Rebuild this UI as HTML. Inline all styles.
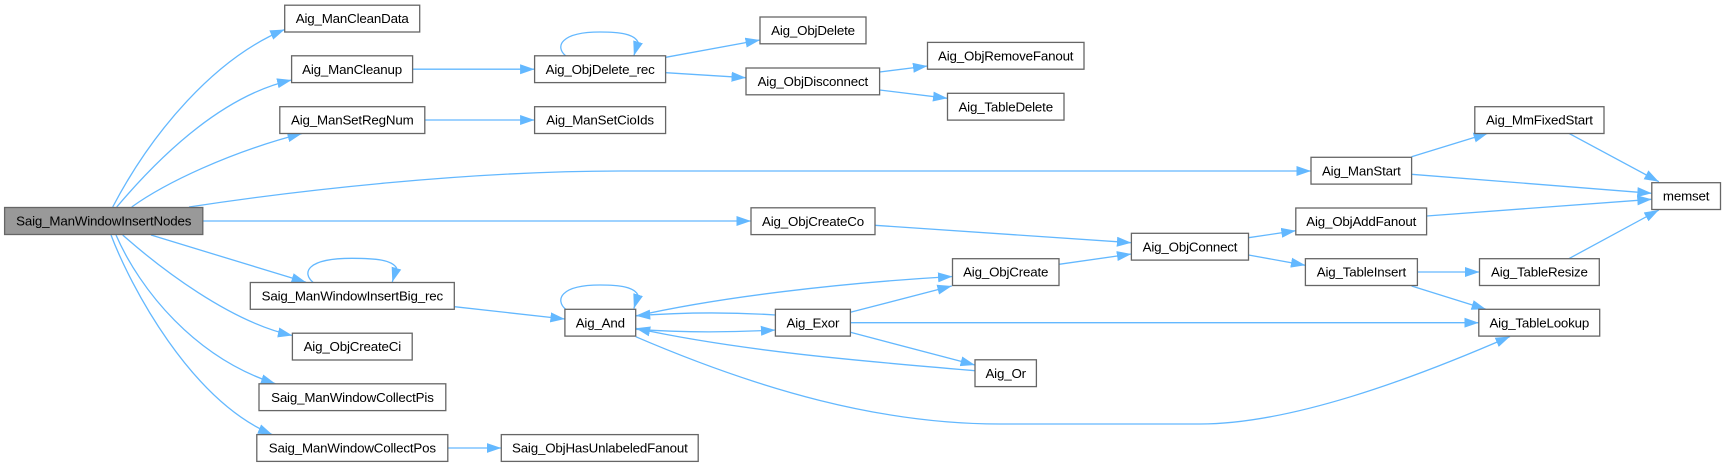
<!DOCTYPE html>
<html><head><meta charset="utf-8"><style>
html,body{margin:0;padding:0;background:#fff}
svg{display:block}
text{font-family:"Liberation Sans",Arial,sans-serif;font-size:13.33px;letter-spacing:-0.17px;fill:#000;text-anchor:middle}
.e{fill:none;stroke:#63b8ff;stroke-width:1.3;marker-end:url(#a)}
.n{fill:#fff;stroke:#666;stroke-width:1.3}
</style></head><body>
<svg width="1726" height="467" viewBox="0 0 1726 467" xmlns="http://www.w3.org/2000/svg">
<defs><marker id="a" markerUnits="userSpaceOnUse" markerWidth="15" markerHeight="11" refX="14.5" refY="5.5" orient="auto"><path d="M0,0.5L14.5,5.5L0,10.5Z" fill="#63b8ff"/></marker></defs>
<g>
<path class="e" d="M112.7,207C152,132 215,58 284.7,29.5"/>
<path class="e" d="M116.7,207C165,150 225,95 291.6,80"/>
<path class="e" d="M131.7,207C165,183 230,152 302,133.5"/>
<path class="e" d="M189,207C300,190 470,171 620,171L1311,171"/>
<path class="e" d="M203,221L751,221"/>
<path class="e" d="M151,235L306,282.3"/>
<path class="e" d="M122.7,235C160,268 230,322 292.4,335.5"/>
<path class="e" d="M116,235C140,290 195,358 275.5,383.7"/>
<path class="e" d="M111,235C130,285 190,400 272.5,434.7"/>
<path class="e" d="M313,282.3C302,273 306,258.3 352,258.3C376,258.3 392,260 396.5,268L392.3,282"/>
<path class="e" d="M565.6,55.7C555,47 560,32 600,32C620,32 634,34 638,42L633.9,55.7"/>
<path class="e" d="M565.6,309.3C555,300 560,285 600,285C620,285 634,287 638,295L633.9,308.5"/>
<path class="e" d="M412.5,69.2L534.6,69.2"/>
<path class="e" d="M424.8,120L534.6,120"/>
<path class="e" d="M665.7,57.3L760,40"/>
<path class="e" d="M665.7,72.7L746,77.7"/>
<path class="e" d="M879.6,72L927.5,66"/>
<path class="e" d="M879.6,90L947.5,98.3"/>
<path class="e" d="M447.8,448L501.3,448"/>
<path class="e" d="M454.3,306.7L564.9,319"/>
<path class="e" d="M875,225.3L1131.4,242.7"/>
<path class="e" d="M1059,264.3L1131.4,254"/>
<path class="e" d="M636,316C720,297 840,283 952.5,276.5"/>
<path class="e" d="M775.4,315C730,312 680,312.5 635.7,315.7"/>
<path class="e" d="M635.7,329.3C680,332.5 730,332.5 775.4,330"/>
<path class="e" d="M975,370.7C860,361 740,351 635.7,328.3"/>
<path class="e" d="M850.4,312.3L951.8,286"/>
<path class="e" d="M850.4,322.7L1478.8,322.7"/>
<path class="e" d="M850.4,332.3L975,365"/>
<path class="e" d="M635.7,336.7C760,390 880,424 1000,424L1200,424C1290,424 1410,380 1510,336.5"/>
<path class="e" d="M1248.5,237.7L1295.8,230.7"/>
<path class="e" d="M1248.5,255L1305.4,265.3"/>
<path class="e" d="M1417.4,272L1479.5,272"/>
<path class="e" d="M1411.6,286L1486,309.3"/>
<path class="e" d="M1568.8,258.7L1658.8,210"/>
<path class="e" d="M1426.6,216L1651.8,199.3"/>
<path class="e" d="M1411.6,174.3L1651.8,193.3"/>
<path class="e" d="M1411.6,156.7L1488,133.3"/>
<path class="e" d="M1568.8,133.3L1658.8,181.7"/>
</g>
<g>
<rect x="4.6" y="207.5" width="198.2" height="27" fill="#999" stroke="#666" stroke-width="1.3"/><text x="103.7" y="225.5">Saig_ManWindowInsertNodes</text>
<rect class="n" x="284.7" y="5.2" width="135" height="26.8"/><text x="352.2" y="23">Aig_ManCleanData</text>
<rect class="n" x="291.6" y="55.8" width="121" height="26.8"/><text x="352.1" y="73.8">Aig_ManCleanup</text>
<rect class="n" x="279.8" y="106.7" width="145" height="26.8"/><text x="352.3" y="124.7">Aig_ManSetRegNum</text>
<rect class="n" x="534.6" y="55.8" width="131" height="26.8"/><text x="600.1" y="73.8">Aig_ObjDelete_rec</text>
<rect class="n" x="534.6" y="106.7" width="131" height="26.8"/><text x="600.1" y="124.7">Aig_ManSetCioIds</text>
<rect class="n" x="250.3" y="282.5" width="204" height="26.8"/><text x="352.3" y="300.5">Saig_ManWindowInsertBig_rec</text>
<rect class="n" x="292.4" y="333.2" width="119.8" height="26.8"/><text x="352.3" y="351.2">Aig_ObjCreateCi</text>
<rect class="n" x="259" y="383.8" width="186.8" height="26.8"/><text x="352.4" y="401.8">Saig_ManWindowCollectPis</text>
<rect class="n" x="256.8" y="434.6" width="191" height="26.8"/><text x="352.3" y="452.6">Saig_ManWindowCollectPos</text>
<rect class="n" x="501.3" y="434.6" width="196.9" height="26.8"/><text x="599.8" y="452.6">Saig_ObjHasUnlabeledFanout</text>
<rect class="n" x="564.9" y="309.3" width="70.8" height="26.8"/><text x="600.3" y="327.3">Aig_And</text>
<rect class="n" x="760" y="17" width="106" height="26.8"/><text x="813" y="35">Aig_ObjDelete</text>
<rect class="n" x="746" y="68" width="133.6" height="26.8"/><text x="812.8" y="86">Aig_ObjDisconnect</text>
<rect class="n" x="927.5" y="42.4" width="156.5" height="26.8"/><text x="1005.7" y="60.4">Aig_ObjRemoveFanout</text>
<rect class="n" x="947.5" y="93.3" width="116.5" height="26.8"/><text x="1005.7" y="111.3">Aig_TableDelete</text>
<rect class="n" x="751" y="207.8" width="124" height="26.8"/><text x="813" y="225.8">Aig_ObjCreateCo</text>
<rect class="n" x="952.5" y="258.7" width="106.5" height="26.8"/><text x="1005.7" y="276.7">Aig_ObjCreate</text>
<rect class="n" x="775.4" y="309.3" width="75" height="26.8"/><text x="812.9" y="327.3">Aig_Exor</text>
<rect class="n" x="975" y="359.8" width="61.4" height="26.8"/><text x="1005.7" y="377.8">Aig_Or</text>
<rect class="n" x="1131.4" y="233.3" width="117.1" height="26.8"/><text x="1190" y="251.3">Aig_ObjConnect</text>
<rect class="n" x="1311" y="157.3" width="100.6" height="26.8"/><text x="1361.3" y="175.3">Aig_ManStart</text>
<rect class="n" x="1474.8" y="106.7" width="129.2" height="26.8"/><text x="1539.4" y="124.7">Aig_MmFixedStart</text>
<rect class="n" x="1651.8" y="182.7" width="68.7" height="26.8"/><text x="1686.1" y="200.7">memset</text>
<rect class="n" x="1295.8" y="208" width="130.8" height="26.8"/><text x="1361.2" y="226">Aig_ObjAddFanout</text>
<rect class="n" x="1305.4" y="258.7" width="112" height="26.8"/><text x="1361.4" y="276.7">Aig_TableInsert</text>
<rect class="n" x="1479.5" y="258.7" width="119.8" height="26.8"/><text x="1539.4" y="276.7">Aig_TableResize</text>
<rect class="n" x="1478.8" y="309.3" width="120.9" height="26.8"/><text x="1539.3" y="327.3">Aig_TableLookup</text>
</g>
</svg>
</body></html>
